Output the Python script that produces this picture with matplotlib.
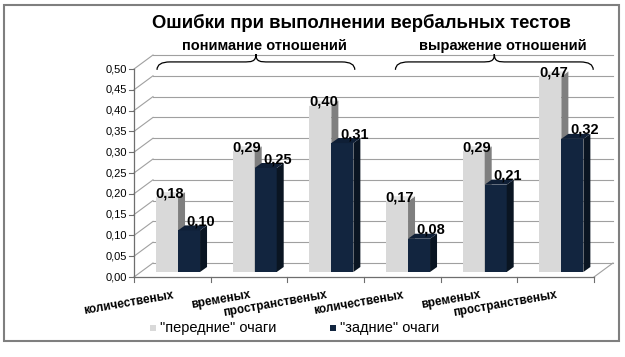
import matplotlib
matplotlib.use("Agg")
import matplotlib.pyplot as plt
from matplotlib.patches import Polygon, Rectangle, PathPatch
from matplotlib.path import Path

plt.rcParams['font.family'] = ['Liberation Sans', 'DejaVu Sans']

title = "Ошибки при выполнении вербальных тестов"
groups = ["понимание отношений", "выражение отношений"]
categories = ["количественых", "временых", "пространственых",
              "количественых", "временых", "пространственых"]
front = [0.18, 0.29, 0.40, 0.17, 0.29, 0.47]   # "передние" очаги
back = [0.10, 0.25, 0.31, 0.08, 0.21, 0.32]    # "задние" очаги
series_names = ['"передние" очаги', '"задние" очаги']
yticks = [0.0, 0.05, 0.10, 0.15, 0.20, 0.25, 0.30, 0.35, 0.40, 0.45, 0.50]

W_PX, H_PX = 625, 357
light = "#d9d9d9"
light_side = "#7f7f7f"
light_top = "#e4e4e4"
dark = "#12253f"
dark_side = "#0a1522"
dark_top = "#0f1f36"
grid_c = "#a0a0a0"
axis_c = "#6e6e6e"

fig = plt.figure(figsize=(W_PX / 100, H_PX / 100), dpi=100)
# front plane of the axes: x 134..594 px, y 277..69 px
ax = fig.add_axes([134 / W_PX, (H_PX - 277) / H_PX, 460 / W_PX, 208 / H_PX])
ax.set_xlim(0, len(categories))
ax.set_ylim(0, 0.5)
ax.axis("off")

px_x = len(categories) / 460.0   # data per pixel, x
px_y = 0.5 / 208.0               # data per pixel, y
BX, BY = 19 * px_x, 14 * px_y    # back wall offset
SX, B0 = 5.7 * px_x, 5 * px_y    # bar plane offset
DX, DY = 7 * px_x, 5 * px_y      # bar depth
W = 22 * px_x
n = len(categories)

# back wall gridlines and left diagonals
for v in yticks:
    ax.plot([BX, n + BX], [v + BY, v + BY], color=grid_c, lw=0.8, clip_on=False, zorder=1)
    ax.plot([0, BX], [v, v + BY], color=grid_c, lw=0.8, clip_on=False, zorder=1)
    ax.plot([-5 * px_x, 0], [v, v], color=axis_c, lw=0.8, clip_on=False, zorder=2)
    ax.text(-7 * px_x, v, ("%.2f" % v).replace(".", ","), ha="right", va="center",
            fontsize=8, clip_on=False)
ax.plot([n, n + BX], [0, BY], color=grid_c, lw=0.8, clip_on=False, zorder=1)
ax.plot([0, 0], [0, 0.5], color=axis_c, lw=0.9, clip_on=False, zorder=2)
ax.plot([0, n], [0, 0], color=axis_c, lw=0.9, clip_on=False, zorder=2)
for i in range(n + 1):
    ax.plot([i, i], [0, -5 * px_y], color=axis_c, lw=0.8, clip_on=False, zorder=2)

xl = [i + 0.5 - W / 2 + SX for i in range(n)]
xd = [i + 0.5 + W / 2 + SX for i in range(n)]
bars_l = ax.bar(xl, front, width=W, bottom=B0, color=light, zorder=3)
bars_d = ax.bar(xd, back, width=W, bottom=B0, color=dark, zorder=3)


def box_faces(x0, top, side_c, top_c, z):
    x1 = x0 + W
    ax.add_patch(Polygon([(x1, B0), (x1 + DX, B0 + DY), (x1 + DX, top + DY), (x1, top)],
                         closed=True, fc=side_c, ec="none", zorder=z))
    ax.add_patch(Polygon([(x0, top), (x0 + DX, top + DY), (x1 + DX, top + DY), (x1, top)],
                         closed=True, fc=top_c, ec="none", zorder=z))


for i in range(n):
    bl, bd = bars_l[i], bars_d[i]
    bl.set_zorder(3 + i)
    box_faces(bl.get_x(), B0 + front[i], light_side, light_top, 3 + i)
    bd.set_zorder(3.5 + i)
    box_faces(bd.get_x(), B0 + back[i], dark_side, dark_top, 3.5 + i)
    ax.text(xl[i] + 3 * px_x, B0 + front[i], ("%.2f" % front[i]).replace(".", ","),
            ha="center", va="baseline", fontsize=10.5, fontweight="bold", zorder=20)
    ax.text(xd[i] + 12 * px_x, B0 + back[i] + 5 * px_y, ("%.2f" % back[i]).replace(".", ","),
            ha="center", va="baseline", fontsize=10.5, fontweight="bold", zorder=20)
    ax.text(i + 0.5, -12 * px_y, categories[i], rotation=10, rotation_mode="anchor",
            ha="right", va="top", fontsize=8.5, fontweight="bold", clip_on=False)

# group braces
for g in range(len(groups)):
    c = [1.59, 4.70][g]
    hw = 1.29
    y_end, y_mid, y_tip = 0.498, 0.517, 0.536
    r = 13 * px_x
    verts = [(c - hw, y_end), (c - hw, y_mid), (c - hw + r, y_mid),
             (c - r, y_mid),
             (c - r / 3, y_mid), (c, y_mid), (c, y_tip),
             (c, y_mid), (c + r / 3, y_mid), (c + r, y_mid),
             (c + hw - r, y_mid),
             (c + hw, y_mid), (c + hw, y_end)]
    codes = [Path.MOVETO, Path.CURVE3, Path.CURVE3, Path.LINETO,
             Path.CURVE4, Path.CURVE4, Path.CURVE4,
             Path.CURVE4, Path.CURVE4, Path.CURVE4,
             Path.LINETO, Path.CURVE3, Path.CURVE3]
    ax.add_patch(PathPatch(Path(verts, codes), fill=False, ec="black", lw=0.9,
                           clip_on=False, zorder=5))
    ax.text(c + 0.11, 0.546, groups[g], ha="center", va="baseline", fontsize=10.5,
            fontweight="bold", clip_on=False)

fig.text(361.5 / W_PX, 1 - 28 / H_PX, title, ha="center", va="baseline",
         fontsize=13.3, fontweight="bold")

# legend
for k, (name, col) in enumerate(zip(series_names, [light, dark])):
    x0 = [150, 330][k]
    fig.patches.append(Rectangle((x0 / W_PX, 1 - 331 / H_PX), 6 / W_PX, 6 / H_PX,
                                 transform=fig.transFigure, fc=col, ec="none"))
    fig.text((x0 + 10) / W_PX, 1 - 328 / H_PX, name, ha="left", va="center", fontsize=10.5)

fig.patches.append(Rectangle((4 / W_PX, 1 - 341 / H_PX), 615 / W_PX, 336 / H_PX,
                             transform=fig.transFigure, fill=False, ec="#7f7f7f", lw=1.5))

fig.savefig("out.png", dpi=100)
